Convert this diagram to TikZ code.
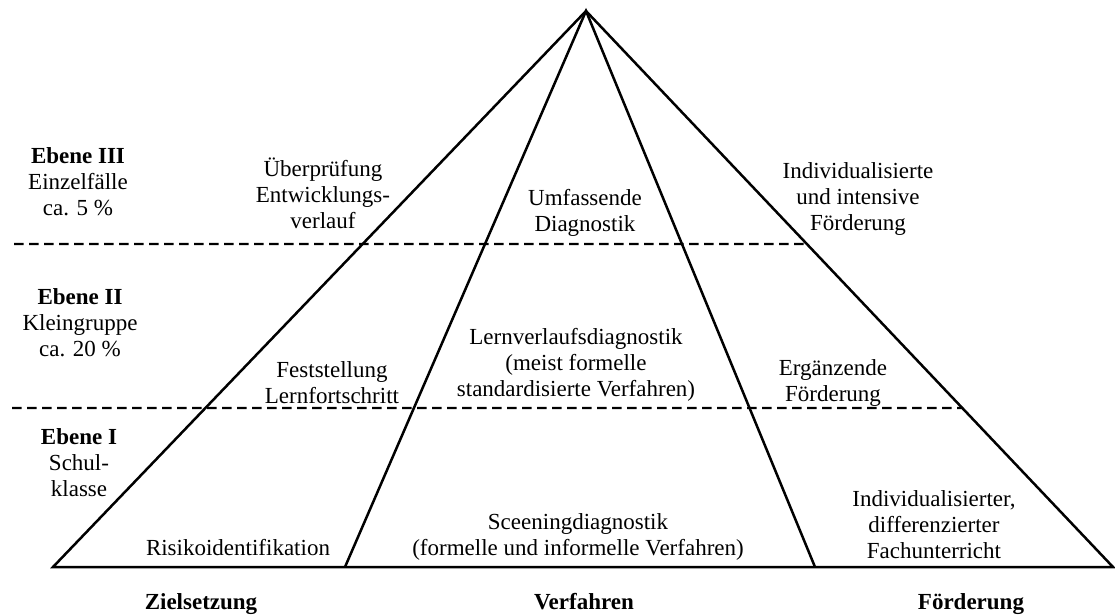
\documentclass[tikz,border=0pt]{standalone}
\usepackage{fontspec}
\setmainfont{Liberation Serif}
\usetikzlibrary{calc}
\tikzset{%
  edge/.style={draw=black,line width=1.25pt},
  lvlsep/.style={draw=black,line width=1.2pt,dash pattern=on 4.75pt off 2.75pt},
  txt/.style={align=center,inner sep=0pt,font=\fontsize{11.5}{13}\selectfont},
  head/.style={txt,anchor=base,font=\fontsize{11.5}{13}\selectfont\bfseries}
}

\begin{document}
\begin{tikzpicture}[x=0.5pt,y=-0.5pt]
  \useasboundingbox (0,0) rectangle (1115,616);
  % pyramid
  \path
    (586,11) coordinate (top)
    (53,567) coordinate (bl)
    (345,567) coordinate (bml)
    (815,567) coordinate (bmr)
    (1113,567) coordinate (br)
    (14,244) coordinate (s3)
    (12,408) coordinate (s2)
    ($(top)!0.419!(br)$) coordinate (r3)
    ($(top)!0.714!(br)$) coordinate (r2);
  \draw[edge] (bl) -- (top) -- (br) -- cycle;
  \draw[edge] (bml) -- (top) -- (bmr);
  \draw[lvlsep] (s3) -- (r3);
  \draw[lvlsep] (s2) -- (r2);
  % levels
  \node[txt] (lvl3) at (78,182) {\textbf{Ebene III}\\Einzelfälle\\ca. 5 \%};
  \node[txt] (lvl2) at (80,323) {\textbf{Ebene II}\\Kleingruppe\\ca. 20 \%};
  \node[txt] (lvl1) at (79,463) {\textbf{Ebene I}\\Schul-\\klasse};
  % cells
  \node[txt] (ziel3) at (323,193) {Überprüfung\\Entwicklungs-\\verlauf};
  \node[txt] (verf3) at (585,213) {Umfassende\\Diagnostik};
  \node[txt] (foerd3) at (858,199) {Individualisierte\\und intensive\\Förderung};
  \node[txt] (ziel2) at (332,383) {Feststellung\\Lernfortschritt};
  \node[txt] (verf2) at (576,365) {Lernverlaufsdiagnostik\\(meist formelle\\standardisierte Verfahren)};
  \node[txt] (foerd2) at (833,383) {Ergänzende\\Förderung};
  \node[txt] (ziel1) at (238,548) {Risikoidentifikation};
  \node[txt] (verf1) at (578,537) {Sceeningdiagnostik\\(formelle und informelle Verfahren)};
  \node[txt] (foerd1) at (934,525) {Individualisierter,\\differenzierter\\Fachunterricht};
  % columns
  \node[head] (ziel) at (201,609) {Zielsetzung};
  \node[head] (verf) at (584,609) {Verfahren};
  \node[head] (foerd) at (971,609) {Förderung};
\end{tikzpicture}
\end{document}
